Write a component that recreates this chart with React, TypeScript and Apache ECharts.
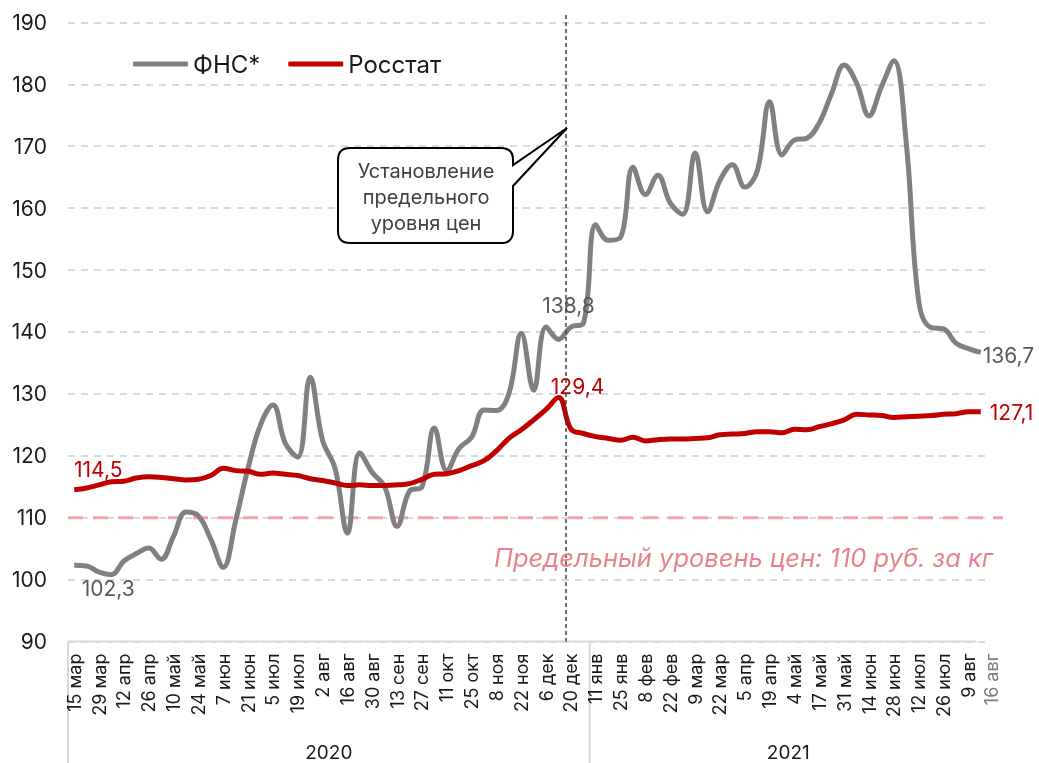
import React, { useEffect, useRef } from "react";
import * as echarts from "echarts";

const categories = [
  "15 мар","22 мар","29 мар","5 апр","12 апр","19 апр","26 апр","3 май","10 май","17 май",
  "24 май","31 май","7 июн","14 июн","21 июн","28 июн","5 июл","12 июл","19 июл","26 июл",
  "2 авг","9 авг","16 авг","23 авг","30 авг","6 сен","13 сен","20 сен","27 сен","4 окт",
  "11 окт","18 окт","25 окт","1 ноя","8 ноя","15 ноя","22 ноя","29 ноя","6 дек","13 дек",
  "20 дек","27 дек",
  "11 янв","18 янв","25 янв","1 фев","8 фев","15 фев","22 фев","1 мар","9 мар","15 мар",
  "22 мар","29 мар","5 апр","12 апр","19 апр","26 апр","4 май","11 май","17 май","24 май",
  "31 май","7 июн","14 июн","21 июн","28 июн","5 июл","12 июл","19 июл","26 июл","2 авг",
  "9 авг","16 авг",
];

const years = ["2020", "2021"];
const yearStartIndex = [0, 42];

const fnsValues = [
  102.3, 102.2, 101.2, 100.8, 103.0, 104.2, 105.1, 103.3, 107.0, 110.9,
  110.3, 106.5, 102.0, 109.5, 118.0, 125.0, 128.2, 122.0, 119.8, 132.7,
  122.5, 118.0, 107.5, 120.5, 117.3, 115.0, 108.6, 114.3, 115.0, 124.5,
  117.6, 121.2, 123.0, 127.4, 127.3, 130.0, 139.8, 130.6, 140.8, 138.8,
  140.8, 141.4,
  157.3, 154.8, 155.3, 166.6, 162.2, 165.3, 160.8, 159.0, 168.9, 159.4,
  164.5, 167.0, 163.4, 166.0, 177.2, 168.6, 171.0, 171.3, 173.8, 178.6,
  183.1, 180.2, 174.9, 179.6, 183.8, 170.5, 145.0, 140.7, 140.5, 138.2,
  137.3, 136.7,
];

const rosstatValues = [
  114.5, 114.8, 115.3, 115.8, 115.9, 116.4, 116.6, 116.5, 116.3, 116.1,
  116.2, 116.8, 118.0, 117.6, 117.5, 117.0, 117.2, 117.0, 116.8, 116.3,
  116.0, 115.6, 115.2, 115.3, 115.2, 115.2, 115.3, 115.5, 116.2, 117.0,
  117.1, 117.6, 118.4, 119.2, 120.8, 122.8, 124.2, 125.8, 127.5, 129.4,
  124.3, 123.6,
  123.1, 122.8, 122.5, 123.0, 122.4, 122.6, 122.7, 122.7, 122.8, 122.9,
  123.4, 123.5, 123.6, 123.9, 123.9, 123.7, 124.3, 124.2, 124.7, 125.2,
  125.8, 126.7, 126.6, 126.5, 126.2, 126.3, 126.4, 126.5, 126.7, 126.8,
  127.1, 127.1,
];

const priceCap = 110;
const capText = "Предельный уровень цен: 110 руб. за кг";
const calloutText = "Установление\nпредельного\nуровня цен";
const capIndex = 39; // week the cap was introduced (line drawn between 13 and 20 дек)

const FONT = "Inter, 'Noto Sans', sans-serif";
const GRAY = "#808080";
const RED = "#C00000";
const PINK = "#F4A3AB";

const fmt = (v: number) => v.toFixed(1).replace(".", ",");

export default function App() {
  const ref = useRef<HTMLDivElement>(null);

  useEffect(() => {
    const chart = echarts.init(ref.current!, null, { renderer: "svg" });
    const last = categories.length - 1;

    const fnsLabels: Record<number, any> = {
      0: { position: "bottom", offset: [34, 8] },
      39: { position: "top", offset: [10, -18] },
      [last]: { position: "right", offset: [-3, 3] },
    };
    const rosLabels: Record<number, any> = {
      0: { position: "top", offset: [24, -5] },
      39: { position: "top", offset: [19, 4] },
      [last]: { position: "right", offset: [4, 1] },
    };
    const mk = (vals: number[], labels: Record<number, any>, color: string) =>
      vals.map((v, i) =>
        labels[i]
          ? {
              value: v,
              label: {
                show: true,
                ...labels[i],
                formatter: () => fmt(v),
                color,
                fontSize: 21,
                fontFamily: FONT,
              },
            }
          : { value: v, label: { show: false } }
      );

    chart.setOption({
      animation: false,
      textStyle: { fontFamily: FONT },
      grid: { left: 68, right: 52, top: 22.4, bottom: 121.5, containLabel: false },
      legend: {
        left: 128,
        top: 47,
        itemWidth: 55,
        itemHeight: 5,
        itemGap: 28,
        icon: "roundRect",
        textStyle: { fontSize: 24, color: "#1a1a1a", fontFamily: FONT },
        data: ["ФНС*", "Росстат"],
      },
      xAxis: {
        type: "category",
        data: categories,
        boundaryGap: true,
        axisTick: { show: false },
        axisLine: { show: false },
        axisLabel: {
          interval: 0,
          rotate: 90,
          margin: 12,
          fontSize: 18,
          color: "#1a1a1a",
          fontFamily: FONT,
          formatter: (val: string, idx: number) => {
            if (idx === last) return "{g|" + val + "}";
            return idx % 2 === 0 ? val : "";
          },
          rich: {
            g: { color: "#7f7f7f", fontSize: 18, fontFamily: FONT, padding: [22, 0, 0, 0] },
          },
        },
        splitLine: { show: false },
      },
      yAxis: {
        type: "value",
        min: 90,
        max: 190,
        interval: 10,
        axisLine: { show: false },
        axisTick: { show: false },
        axisLabel: { fontSize: 21, color: "#1a1a1a", margin: 21, fontFamily: FONT },
        splitLine: { lineStyle: { color: "#d9d9d9", width: 2, type: [7, 6] } },
      },
      series: [
        {
          name: "ФНС*",
          type: "line",
          data: mk(fnsValues, fnsLabels, "#595959"),
          smooth: 0.4,
          symbol: "circle",
          symbolSize: 0,
          showSymbol: true,
          lineStyle: { color: GRAY, width: 5 },
          itemStyle: { color: GRAY },
          z: 3,
        },
        {
          name: "Росстат",
          type: "line",
          data: mk(rosstatValues, rosLabels, RED),
          smooth: 0.4,
          symbol: "circle",
          symbolSize: 0,
          showSymbol: true,
          lineStyle: { color: RED, width: 5 },
          itemStyle: { color: RED },
          z: 4,
        },
      ],
    });

    const px = (i: number) => chart.convertToPixel({ xAxisIndex: 0 }, i) as number;
    const py = (v: number) => chart.convertToPixel({ yAxisIndex: 0 }, v) as number;
    const gridLeft = 68;
    const gridRight = 1039 - 52;
    const bottomY = py(90);
    const capY = py(priceCap);
    const vx = px(capIndex) + 0.6 * (px(capIndex + 1) - px(capIndex));
    const sepX = (px(yearStartIndex[1] - 1) + px(yearStartIndex[1])) / 2;
    const axisEnd = px(last) - 4;

    const tipX = vx + 1;
    const tipY = 128;
    const d =
      `M350 148 L501 148 Q513 148 513 160 L513 165 L${tipX} ${tipY} L513 186 L513 231 ` +
      `Q513 243 501 243 L350 243 Q338 243 338 231 L338 160 Q338 148 350 148 Z`;
    echarts.graphic.registerShape("callout", echarts.graphic.extendPath(d, {}));

    chart.setOption({
      graphic: [
        {
          type: "line",
          shape: { x1: gridLeft, y1: bottomY, x2: axisEnd, y2: bottomY },
          style: { stroke: "#d9d9d9", lineWidth: 2 },
          z: 1,
        },
        {
          type: "line",
          shape: { x1: vx, y1: 15, x2: vx, y2: bottomY },
          style: { stroke: "#404040", lineWidth: 1.5, lineDash: [4, 3] },
          z: 5,
        },
        {
          type: "line",
          shape: { x1: gridLeft, y1: capY, x2: 1003, y2: capY },
          style: { stroke: PINK, lineWidth: 3, lineDash: [15, 10] },
          z: 2,
        },
        {
          type: "text",
          x: 993,
          y: capY + 40,
          style: {
            text: capText,
            fill: "#E8838D",
            font: `italic 25.5px ${FONT}`,
            align: "right",
            verticalAlign: "middle",
          },
          z: 6,
        },
        {
          type: "callout",
          x: 0,
          y: 0,
          style: { fill: "#ffffff", stroke: "#000000", lineWidth: 2 },
          z: 10,
        },
        {
          type: "text",
          x: 426,
          y: 197,
          style: {
            text: calloutText,
            fill: "#404040",
            font: `20px ${FONT}`,
            align: "center",
            verticalAlign: "middle",
            lineHeight: 26,
          },
          z: 11,
        },
        {
          type: "line",
          shape: { x1: gridLeft, y1: bottomY, x2: gridLeft, y2: 763 },
          style: { stroke: "#d9d9d9", lineWidth: 2 },
        },
        {
          type: "line",
          shape: { x1: sepX, y1: bottomY, x2: sepX, y2: 763 },
          style: { stroke: "#d9d9d9", lineWidth: 2 },
        },
        {
          type: "text",
          x: (gridLeft + sepX) / 2,
          y: 752,
          style: { text: years[0], fill: "#1a1a1a", font: `19px ${FONT}`, align: "center", verticalAlign: "middle" },
        },
        {
          type: "text",
          x: (sepX + gridRight) / 2,
          y: 752,
          style: { text: years[1], fill: "#1a1a1a", font: `19px ${FONT}`, align: "center", verticalAlign: "middle" },
        },
      ],
    });

    return () => chart.dispose();
  }, []);

  return (
    <div
      ref={ref}
      style={{ position: "fixed", left: 0, top: 0, width: 1039, height: 763 }}
    />
  );
}
